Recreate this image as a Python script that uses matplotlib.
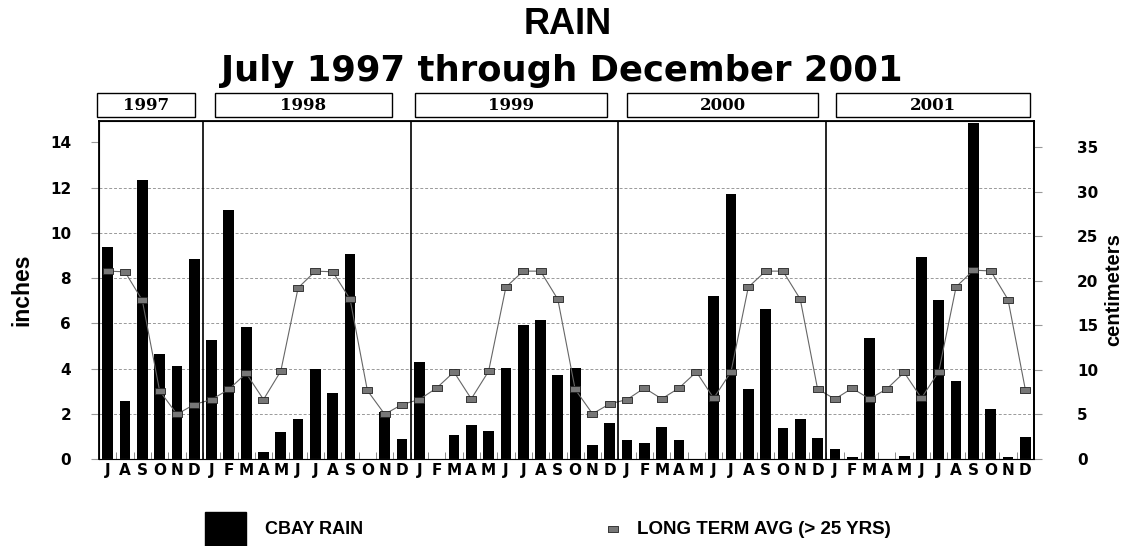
import matplotlib
matplotlib.use("Agg")
import matplotlib.pyplot as plt
from matplotlib.patches import Rectangle
import numpy as np

months = (["J", "A", "S", "O", "N", "D"] +
          ["J", "F", "M", "A", "M", "J", "J", "A", "S", "O", "N", "D"] * 4)
years = ["1997", "1998", "1999", "2000", "2001"]
months_per_year = [6, 12, 12, 12, 12]

rain = [9.39, 2.56, 12.32, 4.66, 4.13, 8.86,
        5.28, 11.02, 5.83, 0.33, 1.21, 1.76, 3.98, 2.91, 9.07, 0.0, 2.07, 0.89,
        4.29, 0.0, 1.07, 1.52, 1.23, 4.04, 5.92, 6.15, 3.73, 4.01, 0.61, 1.58,
        0.84, 0.72, 1.43, 0.83, 0.0, 7.23, 11.73, 3.09, 6.63, 1.35, 1.78, 0.95,
        0.44, 0.10, 5.35, 0.0, 0.13, 8.93, 7.02, 3.47, 14.84, 2.20, 0.09, 0.96]

long_term_avg = [8.31, 8.28, 7.02, 3.02, 1.98, 2.41,
                 2.63, 3.08, 3.79, 2.63, 3.89, 7.57, 8.31, 8.28, 7.07, 3.03, 1.98, 2.41,
                 2.63, 3.14, 3.85, 2.66, 3.88, 7.60, 8.31, 8.31, 7.06, 3.08, 2.00, 2.44,
                 2.63, 3.14, 2.66, 3.14, 3.85, 2.69, 3.85, 7.60, 8.31, 8.31, 7.07, 3.10,
                 2.65, 3.13, 2.66, 3.10, 3.83, 2.69, 3.87, 7.61, 8.35, 8.32, 7.05, 3.07]

SANS = "Liberation Sans"

W, H = 1123, 546
fig = plt.figure(figsize=(W / 100, H / 100), dpi=100)
ax = fig.add_axes([99 / W, 1 - 459 / H, (1034 - 99) / W, (459 - 121) / H])

x = np.arange(len(rain))
ax.bar(x, rain, width=0.62, color="black", zorder=2)
avg_marker = [(-1, -0.6), (1, -0.6), (1, 0.6), (-1, 0.6), (-1, -0.6)]
ax.plot(x, long_term_avg, color="#666666", lw=0.8, marker=avg_marker,
        markersize=7, markerfacecolor="#777777", markeredgecolor="#222222",
        markeredgewidth=0.6, zorder=3)

ax.set_xlim(-0.5, len(rain) - 0.5)
ymax = 14.95
ax.set_ylim(0, ymax)

# year separators
bounds = np.cumsum(months_per_year)[:-1]
for b in bounds:
    ax.axvline(b - 0.5, color="black", lw=1.2, zorder=4)

ax.set_yticks(np.arange(0, 15, 2))
ax.set_yticklabels([str(v) for v in range(0, 15, 2)], fontweight="bold",
                   fontsize=11, family="DejaVu Sans")
for v in range(2, 13, 2):
    ax.axhline(v, color="#999999", lw=0.7, ls=(0, (3, 2)), zorder=1)
ax.tick_params(axis="y", length=6, color="#999999", pad=14)

ax.set_xticks(x)
ax.set_xticklabels(months, fontweight="bold", fontsize=11, family="DejaVu Sans")
ax.set_xticks(np.arange(-0.5, len(rain), 1), minor=True)
ax.tick_params(axis="x", which="major", length=0, pad=3)
ax.tick_params(axis="x", which="minor", length=5, direction="in", color="#777777")

for side in ["left", "right", "top"]:
    ax.spines[side].set_color("black")
    ax.spines[side].set_linewidth(1.3)
ax.spines["bottom"].set_color("#888888")
ax.spines["bottom"].set_linewidth(0.8)

ax.set_ylabel("inches", fontsize=16.5, fontweight="bold", family=SANS, labelpad=12)

ax2 = ax.twinx()
ax2.set_ylim(0, ymax * 2.54)
ax2.set_yticks(np.arange(0, 36, 5))
ax2.set_yticklabels([str(v) for v in range(0, 36, 5)], fontweight="bold",
                    fontsize=11, family="DejaVu Sans")
ax2.tick_params(axis="y", length=6, color="#999999", pad=25)
ax2.spines["right"].set_linewidth(1.3)
ax2.set_ylabel("centimeters", fontsize=14.5, fontweight="bold", family=SANS,
               labelpad=4)

# year boxes
box_spans = [(97, 195), (215, 392), (415, 607), (627, 818), (836, 1030)]
for (x0, x1), yr in zip(box_spans, years):
    fig.patches.append(Rectangle((x0 / W, 1 - 117 / H), (x1 - x0) / W, 24 / H,
                                 transform=fig.transFigure, fill=False,
                                 edgecolor="black", lw=1.0))
    fig.text((x0 + x1) / 2 / W, 1 - 105 / H, yr, ha="center", va="center",
             fontsize=12, fontweight="bold", family="DejaVu Serif")

fig.text(568 / W, 1 - 24 / H, "RAIN", ha="center", va="center",
         fontsize=26, fontweight="bold", family=SANS)
fig.text(562 / W, 1 - 71 / H, "July 1997 through December 2001", ha="center",
         va="center", fontsize=25.5, fontweight="bold", family="DejaVu Sans")

# legend
fig.patches.append(Rectangle((205 / W, 0), 41 / W, 34 / H,
                             transform=fig.transFigure, color="black"))
fig.text(265 / W, 1 - 529 / H, "CBAY RAIN", ha="left", va="center",
         fontsize=13, fontweight="bold", family=SANS)
fig.lines.append(plt.Line2D([613 / W], [1 - 529 / H], transform=fig.transFigure,
                            marker=avg_marker, markersize=7, ls="none",
                            markerfacecolor="#777777", markeredgecolor="#222222",
                            markeredgewidth=0.6))
fig.text(637 / W, 1 - 529 / H, "LONG TERM AVG (> 25 YRS)", ha="left",
         va="center", fontsize=13.5, fontweight="bold", family=SANS)

fig.savefig("out.png", dpi=100, facecolor="white")
